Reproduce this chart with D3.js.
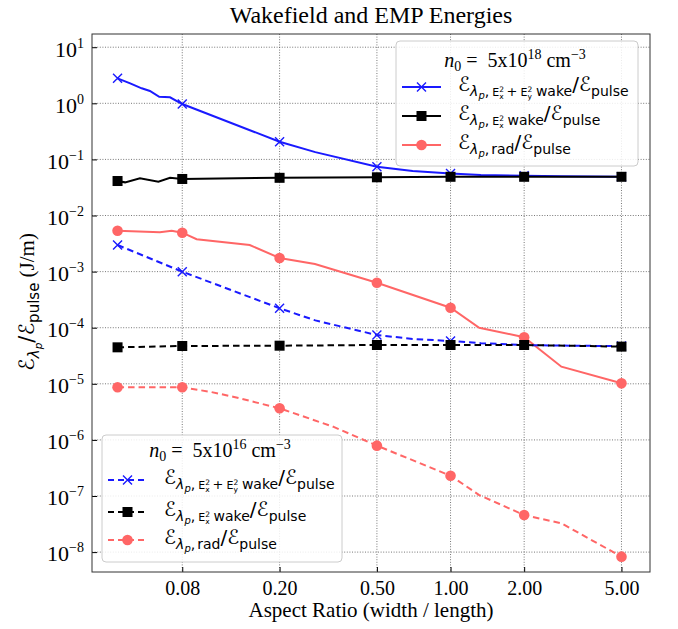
<!DOCTYPE html>
<html>
<head>
<meta charset="utf-8">
<script src="https://cdn.jsdelivr.net/npm/d3@7"></script>
<style>
  body { margin: 0; background: #fff; }
  text { white-space: pre; }
</style>
</head>
<body>
<script>
// Data (aspect ratio vs energy fraction)
var markerX = [0.0435, 0.08, 0.2, 0.5, 1, 2, 5];

// n0 = 5e18
var wakeXY18X = [0.0435, 0.049, 0.0546, 0.059, 0.0644, 0.0713, 0.08, 0.2, 0.28, 0.5, 0.7, 1, 1.33, 2, 2.85, 5];
var wakeXY18Y = [2.79, 2.27, 1.85, 1.66, 1.31, 1.28, 0.97, 0.207, 0.135, 0.074, 0.062, 0.056, 0.053, 0.051, 0.050, 0.049];
var wakeX18X = [0.0435, 0.0467, 0.0537, 0.0639, 0.0713, 0.08, 0.2, 0.5, 1, 2, 5];
var wakeX18Y = [0.0412, 0.039, 0.046, 0.040, 0.0472, 0.0448, 0.047, 0.048, 0.049, 0.049, 0.049];
var rad18X = [0.0435, 0.0648, 0.0724, 0.08, 0.0916, 0.151, 0.2, 0.279, 0.5, 1, 1.31, 2, 2.84, 5];
var rad18Y = [0.00536, 0.00502, 0.00536, 0.00494, 0.00377, 0.00298, 0.00175, 0.00137, 0.000634, 0.000227, 0.0001, 0.0000675, 0.0000202, 0.0000102];

// n0 = 5e16
var wakeXY16X = [0.0435, 0.08, 0.2, 0.28, 0.5, 0.7, 1, 1.33, 2, 2.85, 5];
var wakeXY16Y = [0.00298, 0.000996, 0.000222, 0.000135, 0.000074, 0.000063, 0.000058, 0.000053, 0.000049, 0.000048, 0.000047];
var wakeX16X = [0.0435, 0.08, 0.2, 0.5, 1, 2, 5];
var wakeX16Y = [0.0000447, 0.0000472, 0.0000478, 0.0000492, 0.0000492, 0.0000492, 0.000046];
var rad16X = [0.0435, 0.08, 0.104, 0.129, 0.2, 0.331, 0.5, 1, 1.31, 2, 2.84, 5];
var rad16Y = [8.67e-6, 8.67e-6, 7.2e-6, 5.9e-6, 3.66e-6, 1.72e-6, 7.9e-7, 2.3e-7, 1.04e-7, 4.58e-8, 3.26e-8, 8.3e-9];

var xTicks = [0.08, 0.2, 0.5, 1, 2, 5];
var yExp = [-8, -7, -6, -5, -4, -3, -2, -1, 0, 1];

var width = 678, height = 629;
var blue = "#1a1aff", black = "#000", red = "#ff6666";
var serif = "Liberation Serif", sans = "DejaVu Sans";

var svg = d3.select("body").append("svg")
    .attr("width", width)
    .attr("height", height);

var x = d3.scaleLog().domain([0.0342, 6.54]).range([92, 650]);
var y = d3.scaleLog().domain([4.42e-9, 17.2]).range([572, 34]);

// Grid
var grid = svg.append("g");
grid.selectAll(".gx").data(xTicks).enter().append("line")
    .attr("x1", d => x(d)).attr("x2", d => x(d))
    .attr("y1", 34).attr("y2", 572);
grid.selectAll(".gy").data(yExp).enter().append("line")
    .attr("x1", 92).attr("x2", 650)
    .attr("y1", d => y(Math.pow(10, d))).attr("y2", d => y(Math.pow(10, d)));
grid.selectAll("line")
    .attr("stroke", "#555")
    .attr("stroke-width", 0.8)
    .attr("stroke-dasharray", "1,1.6");

// Axes
var xAxis = d3.axisBottom(x).tickValues(xTicks).tickSize(-5).tickPadding(9)
    .tickFormat(d3.format(".2f"));
var gx = svg.append("g").attr("transform", "translate(0,572)").call(xAxis);
gx.select(".domain").remove();
gx.selectAll("text").attr("font-family", serif).attr("font-size", 20).attr("fill", "#000");

var yAxis = d3.axisLeft(y).tickValues(yExp.map(e => Math.pow(10, e))).tickSize(-5).tickPadding(8)
    .tickFormat("");
var gy = svg.append("g").attr("transform", "translate(92,0)").call(yAxis);
gy.select(".domain").remove();
gy.selectAll(".tick text").each(function (d, i) {
    var t = d3.select(this)
        .attr("font-family", serif).attr("font-size", 22).attr("fill", "#000")
        .attr("dy", "0.40em");
    t.append("tspan").text("10");
    t.append("tspan").text(yExp[i] < 0 ? "\u2212" + (-yExp[i]) : yExp[i])
        .attr("font-size", 14).attr("dy", -9);
});

// Frame
svg.append("rect")
    .attr("x", 92).attr("y", 34).attr("width", 558).attr("height", 538)
    .attr("fill", "none").attr("stroke", "#333").attr("stroke-width", 1);

// Series
var line = d3.line().x(d => x(d[0])).y(d => y(d[1]));

function marker(g, type, cx, cy, color) {
    if (type === "x") {
        g.append("path")
            .attr("d", "M-4.5,-4.5L4.5,4.5M-4.5,4.5L4.5,-4.5")
            .attr("transform", "translate(" + cx + "," + cy + ")")
            .attr("stroke", color).attr("stroke-width", 1.4).attr("fill", "none");
    } else if (type === "s") {
        g.append("rect").attr("x", cx - 5).attr("y", cy - 5)
            .attr("width", 10).attr("height", 10).attr("fill", color);
    } else {
        g.append("circle").attr("cx", cx).attr("cy", cy).attr("r", 5.3).attr("fill", color);
    }
}

function drawSeries(xs, ys, color, dash, type) {
    var pts = xs.map((v, i) => [v, ys[i]]);
    var g = svg.append("g");
    g.append("path").datum(pts)
        .attr("d", line)
        .attr("fill", "none")
        .attr("stroke", color)
        .attr("stroke-width", 2)
        .attr("stroke-dasharray", dash ? "6.5,4" : null);
    pts.forEach(function (p) {
        if (markerX.indexOf(p[0]) >= 0) marker(g, type, x(p[0]), y(p[1]), color);
    });
}

drawSeries(wakeXY18X, wakeXY18Y, blue, false, "x");
drawSeries(wakeX18X, wakeX18Y, black, false, "s");
drawSeries(rad18X, rad18Y, red, false, "o");
drawSeries(wakeXY16X, wakeXY16Y, blue, true, "x");
drawSeries(wakeX16X, wakeX16Y, black, true, "s");
drawSeries(rad16X, rad16Y, red, true, "o");

// Rich text helper: parts = [text, size, shift, italic, dx, family]
function rich(g, x0, y0, parts, anchor) {
    var t = g.append("text").attr("x", x0).attr("y", y0)
        .attr("font-family", sans).attr("fill", "#000")
        .attr("text-anchor", anchor || "start");
    var prev = 0;
    parts.forEach(function (p) {
        var s = t.append("tspan").text(p[0])
            .attr("font-size", p[1])
            .attr("dy", p[2] - prev);
        if (p[3]) s.attr("font-style", "italic");
        if (p[4]) s.attr("dx", p[4]);
        if (p[5]) s.attr("font-family", p[5]);
        prev = p[2];
    });
    return t;
}

var labWakeXY = [["\u2130", 20, 0], ["\u03bb", 14, 5, 1], ["p", 10, 8, 1], [",", 14, 5],
    ["E", 11, 5, 0, 3], ["2", 7.5, 0.5], ["x", 7.5, 8, 0, -4.8], ["+", 13, 5, 0, 3], ["E", 11, 5, 0, 3],
    ["2", 7.5, 0.5], ["y", 7.5, 8, 0, -4.8], ["wake", 14, 5, 0, 4], ["/", 20, 0], ["\u2130", 20, 0], ["pulse", 14, 5]];
var labWakeX = [["\u2130", 20, 0], ["\u03bb", 14, 5, 1], ["p", 10, 8, 1], [",", 14, 5],
    ["E", 11, 5, 0, 3], ["2", 7.5, 0.5], ["x", 7.5, 8, 0, -4.8], ["wake", 14, 5, 0, 4], ["/", 20, 0], ["\u2130", 20, 0], ["pulse", 14, 5]];
var labRad = [["\u2130", 20, 0], ["\u03bb", 14, 5, 1], ["p", 10, 8, 1], [",", 14, 5],
    ["rad", 14, 5, 0, 2], ["/", 20, 0], ["\u2130", 20, 0], ["pulse", 14, 5]];

function legend(x0, y0, w, h, titleExp, titleY, rows, dash) {
    var g = svg.append("g");
    g.append("rect").attr("x", x0).attr("y", y0).attr("width", w).attr("height", h)
        .attr("rx", 4).attr("fill", "#fff").attr("fill-opacity", 0.85)
        .attr("stroke", "#ccc");
    rich(g, x0 + w / 2 - 2, titleY, [["n", 20, 0, 1, 0, serif], ["0", 14, 4, 0, 0, serif],
        [" =  5x10", 20, 0, 0, 0, serif], [titleExp, 14, -8, 0, 0, serif], [" cm", 20, 0, 0, 0, serif],
        ["\u22123", 14, -8, 0, 0, serif]], "middle");
    rows.forEach(function (r) {
        g.append("line").attr("x1", x0 + 6).attr("x2", x0 + 45)
            .attr("y1", r.y).attr("y2", r.y)
            .attr("stroke", r.color).attr("stroke-width", 2)
            .attr("stroke-dasharray", dash ? "6,4" : null);
        marker(g, r.type, x0 + 25.5, r.y, r.color);
        rich(g, x0 + 62, r.y + 4, r.lab);
    });
}

legend(396, 41, 242, 125, "18", 67, [
    { y: 87, color: blue, type: "x", lab: labWakeXY },
    { y: 116, color: black, type: "s", lab: labWakeX },
    { y: 145, color: red, type: "o", lab: labRad }
], false);

legend(102, 435, 240, 127, "16", 457, [
    { y: 480, color: blue, type: "x", lab: labWakeXY },
    { y: 512, color: black, type: "s", lab: labWakeX },
    { y: 540, color: red, type: "o", lab: labRad }
], true);

// Title and axis labels
svg.append("text")
    .attr("x", 371).attr("y", 23)
    .attr("text-anchor", "middle")
    .attr("font-family", serif).attr("font-size", 24)
    .text("Wakefield and EMP Energies");

svg.append("text")
    .attr("x", 371).attr("y", 617)
    .attr("text-anchor", "middle")
    .attr("font-family", serif).attr("font-size", 21)
    .text("Aspect Ratio (width / length)");

var yl = svg.append("g").attr("transform", "translate(34,302) rotate(-90)");
rich(yl, 0, 0, [["\u2130", 21, 0], ["\u03bb", 15, 5, 1], ["p", 10.5, 8, 1], ["/", 21, 0],
    ["\u2130", 21, 0], ["pulse", 15, 5], [" (J/m)", 21, 0, 0, 0, serif]], "middle");
</script>
</body>
</html>
